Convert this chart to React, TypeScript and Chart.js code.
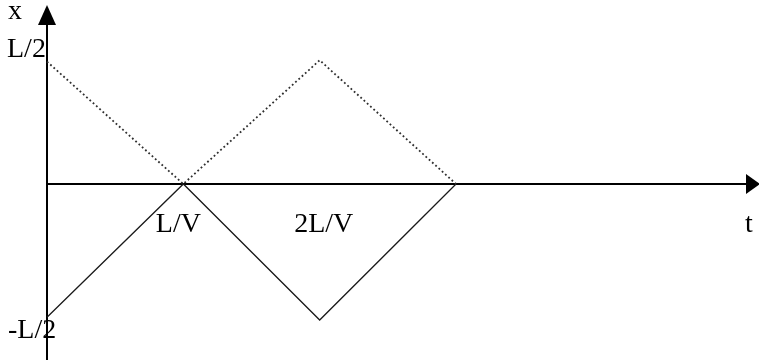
import React, { useEffect, useRef } from 'react';
import { Chart, registerables } from 'chart.js';

Chart.register(...registerables);

// time in units of L/V
const tValues = [0, 1, 2, 3];
// position in units of L/2
const dottedSeries = [0.9, 0, 0.91, 0];
const solidSeries = [-0.98, 0, -1, 0];
const xTickValues = [1, 2];
const xTickLabels = ['L/V', '2L/V'];
const yTickValues = [1, -1];
const yTickLabels = ['L/2', '-L/2'];
const yAxisName = 'x';
const xAxisName = 't';

const X_MIN = -0.3447;
const X_MAX = 5.222;
const Y_MAX = 1.3529;
const Y_MIN = -1.2941;

const FONT = '28px "Liberation Serif", "Times New Roman", serif';

const axesPlugin = {
  id: 'arrowAxes',
  beforeDatasetsDraw(chart: any) {
    const ctx = chart.ctx as CanvasRenderingContext2D;
    const xs = chart.scales.x;
    const ys = chart.scales.y;
    const x0 = Math.round(xs.getPixelForValue(0));
    const y0 = Math.round(ys.getPixelForValue(0));
    const W = chart.width;
    const H = chart.height;
    ctx.save();
    ctx.strokeStyle = '#000';
    ctx.fillStyle = '#000';
    ctx.lineWidth = 2;
    // y axis
    ctx.beginPath();
    ctx.moveTo(x0, H);
    ctx.lineTo(x0, 22);
    ctx.stroke();
    ctx.beginPath();
    ctx.moveTo(x0, 5);
    ctx.lineTo(x0 - 9, 25);
    ctx.lineTo(x0 + 9, 25);
    ctx.closePath();
    ctx.fill();
    // x axis
    ctx.beginPath();
    ctx.moveTo(x0, y0);
    ctx.lineTo(W - 12, y0);
    ctx.stroke();
    ctx.beginPath();
    ctx.moveTo(W + 1, y0);
    ctx.lineTo(W - 13, y0 - 10);
    ctx.lineTo(W - 13, y0 + 10);
    ctx.closePath();
    ctx.fill();

    // labels
    ctx.font = FONT;
    ctx.fillStyle = '#000';
    ctx.textBaseline = 'alphabetic';
    ctx.textAlign = 'left';
    ctx.fillText(yAxisName, 8, 19);
    yTickValues.forEach((v, i) => {
      const py = ys.getPixelForValue(v);
      ctx.fillText(yTickLabels[i], v > 0 ? 7 : 8, py + (v > 0 ? 9 : 18));
    });
    xTickValues.forEach((v, i) => {
      const px = xs.getPixelForValue(v);
      ctx.textAlign = 'center';
      ctx.fillText(xTickLabels[i], px - 5 + (v > 1 ? 9 : 0), y0 + 48);
    });
    ctx.textAlign = 'left';
    ctx.fillText(xAxisName, 745, y0 + 48);
    ctx.restore();
  },
};

export default function App() {
  const ref = useRef<HTMLCanvasElement>(null);
  useEffect(() => {
    document.body.style.margin = '0';
    const chart = new Chart(ref.current as HTMLCanvasElement, {
      type: 'line',
      data: {
        datasets: [
          {
            data: tValues.map((t, i) => ({ x: t, y: dottedSeries[i] })),
            borderColor: '#2e2e2e',
            borderWidth: 1.8,
            borderDash: [1.8, 2.6],
            pointRadius: 0,
            tension: 0,
            fill: false,
          },
          {
            data: tValues.map((t, i) => ({ x: t, y: solidSeries[i] })),
            borderColor: '#1a1a1a',
            borderWidth: 1.3,
            pointRadius: 0,
            tension: 0,
            fill: false,
          },
        ],
      },
      options: {
        animation: false,
        responsive: false,
        maintainAspectRatio: false,
        layout: { padding: 0 },
        plugins: { legend: { display: false }, tooltip: { enabled: false } },
        scales: {
          x: { type: 'linear', display: false, min: X_MIN, max: X_MAX },
          y: { type: 'linear', display: false, min: Y_MIN, max: Y_MAX },
        },
      },
      plugins: [axesPlugin],
    } as any);
    return () => chart.destroy();
  }, []);
  return (
    <div style={{ width: 759, height: 360, background: '#fff' }}>
      <canvas ref={ref} width={759} height={360} style={{ display: 'block' }} />
    </div>
  );
}
